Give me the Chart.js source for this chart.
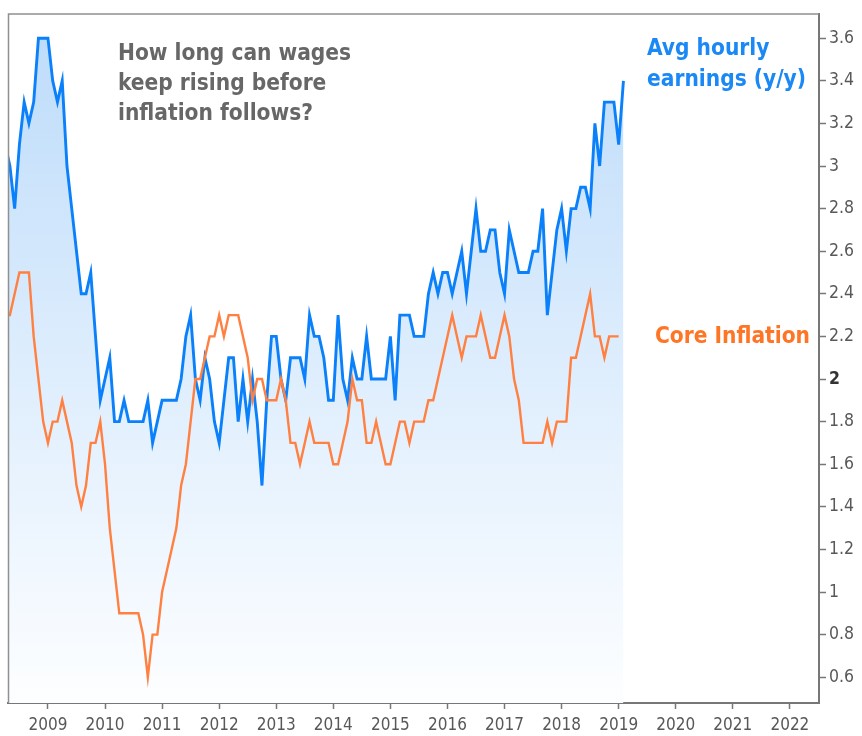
<!DOCTYPE html>
<html>
<head>
<meta charset="utf-8">
<title>Wages vs core inflation</title>
<script src="https://cdn.jsdelivr.net/npm/chart.js@4.4.1/dist/chart.umd.min.js"></script>
<style>
  html,body{margin:0;padding:0;background:#fff;}
  #wrap{width:862px;height:736px;}
</style>
</head>
<body>
<div id="wrap"><canvas id="c" width="862" height="736"></canvas></div>
<script>
// monthly series, first point = Apr 2008
const firstMonth = [2008, 4];

// average hourly earnings, y/y %  (Apr 2008 .. Feb 2019)
const aheYoY = [
  3.1, 3.0, 2.8, 3.1, 3.3, 3.2, 3.3, 3.6, 3.6,
  3.6, 3.4, 3.3, 3.4, 3.0, 2.8, 2.6, 2.4, 2.4, 2.5, 2.2, 1.9,
  2.0, 2.1, 1.8, 1.8, 1.9, 1.8, 1.8, 1.8, 1.8, 1.9, 1.7, 1.8,
  1.9, 1.9, 1.9, 1.9, 2.0, 2.2, 2.3, 2.0, 1.9, 2.1, 2.0, 1.8,
  1.7, 1.9, 2.1, 2.1, 1.8, 2.0, 1.8, 2.0, 1.8, 1.5, 1.9, 2.2,
  2.2, 2.0, 1.9, 2.1, 2.1, 2.1, 2.0, 2.3, 2.2, 2.2, 2.1, 1.9,
  1.9, 2.3, 2.0, 1.9, 2.1, 2.0, 2.0, 2.2, 2.0, 2.0, 2.0, 2.0,
  2.2, 1.9, 2.3, 2.3, 2.3, 2.2, 2.2, 2.2, 2.4, 2.5, 2.4, 2.5,
  2.5, 2.4, 2.5, 2.6, 2.4, 2.6, 2.8, 2.6, 2.6, 2.7, 2.7, 2.5,
  2.4, 2.7, 2.6, 2.5, 2.5, 2.5, 2.6, 2.6, 2.8, 2.3, 2.5, 2.7,
  2.8, 2.6, 2.8, 2.8, 2.9, 2.9, 2.8, 3.2, 3.0, 3.3, 3.3, 3.3,
  3.1, 3.4
];

// core CPI, y/y %  (Apr 2008 .. Jan 2019)
const coreCpiYoY = [
  2.3, 2.3, 2.4, 2.5, 2.5, 2.5, 2.2, 2.0, 1.8,
  1.7, 1.8, 1.8, 1.9, 1.8, 1.7, 1.5, 1.4, 1.5, 1.7, 1.7, 1.8,
  1.6, 1.3, 1.1, 0.9, 0.9, 0.9, 0.9, 0.9, 0.8, 0.6, 0.8, 0.8,
  1.0, 1.1, 1.2, 1.3, 1.5, 1.6, 1.8, 2.0, 2.0, 2.1, 2.2, 2.2,
  2.3, 2.2, 2.3, 2.3, 2.3, 2.2, 2.1, 1.9, 2.0, 2.0, 1.9, 1.9,
  1.9, 2.0, 1.9, 1.7, 1.7, 1.6, 1.7, 1.8, 1.7, 1.7, 1.7, 1.7,
  1.6, 1.6, 1.7, 1.8, 2.0, 1.9, 1.9, 1.7, 1.7, 1.8, 1.7, 1.6,
  1.6, 1.7, 1.8, 1.8, 1.7, 1.8, 1.8, 1.8, 1.9, 1.9, 2.0, 2.1,
  2.2, 2.3, 2.2, 2.1, 2.2, 2.2, 2.2, 2.3, 2.2, 2.1, 2.1, 2.2,
  2.3, 2.2, 2.0, 1.9, 1.7, 1.7, 1.7, 1.7, 1.7, 1.8, 1.7, 1.8,
  1.8, 1.8, 2.1, 2.1, 2.2, 2.3, 2.4, 2.2, 2.2, 2.1, 2.2, 2.2,
  2.2
];

const yearTicks = [2009, 2010, 2011, 2012, 2013, 2014, 2015, 2016, 2017, 2018, 2019, 2020, 2021, 2022];
const valueTicks = [0.6, 0.8, 1, 1.2, 1.4, 1.6, 1.8, 2, 2.2, 2.4, 2.6, 2.8, 3, 3.2, 3.4, 3.6];

const question = ["How long can wages", "keep rising before", "inflation follows?"];
const aheLabel = ["Avg hourly", "earnings (y/y)"];
const coreLabel = "Core Inflation";

const FONT = '"DejaVu Sans Condensed", "DejaVu Sans", sans-serif';
const BLUE = "#0a80fa", ORANGE = "#ff8040";

const monthX = i => firstMonth[0] + (firstMonth[1] - 1 + i) / 12;
const toPoints = arr => arr.map((v, i) => ({x: monthX(i), y: v}));

function wageFill(c){
  const {ctx, chartArea} = c.chart;
  if(!chartArea) return "rgba(190,220,250,0.6)";
  const g = ctx.createLinearGradient(0, chartArea.top, 0, chartArea.bottom);
  g.addColorStop(0, "#bcdbfa");
  g.addColorStop(0.5, "#ddedfd");
  g.addColorStop(1, "#fdfeff");
  return g;
}

const extras = {
  id: "extras",
  afterDatasetsDraw(chart){
    const {ctx, chartArea: a} = chart;
    ctx.save();
    // frame on the left / top (axes give right / bottom)
    ctx.strokeStyle = "#909090"; ctx.lineWidth = 1.5;
    ctx.beginPath();
    ctx.moveTo(a.left + 0.5, a.bottom); ctx.lineTo(a.left + 0.5, a.top + 0.5); ctx.lineTo(a.right, a.top + 0.5);
    ctx.stroke();

    ctx.textBaseline = "alphabetic";
    ctx.font = "bold 22.5px " + FONT;
    ctx.fillStyle = "#676767"; ctx.textAlign = "left";
    question.forEach((t, i) => ctx.fillText(t, a.left + 110, a.top + 46 + i * 30));

    ctx.fillStyle = "#1a88f5";
    aheLabel.forEach((t, i) => ctx.fillText(t, a.left + 639, a.top + 41 + i * 31));

    ctx.fillStyle = "#ff7526"; ctx.textAlign = "right";
    ctx.fillText(coreLabel, a.right - 9, chart.scales.y.getPixelForValue(2.2) + 7);
    ctx.restore();
  }
};

new Chart(document.getElementById("c"), {
  type: "line",
  data: {
    datasets: [
      {label: "Core Inflation", data: toPoints(coreCpiYoY), borderColor: ORANGE, borderWidth: 2.4,
       pointRadius: 0, tension: 0, fill: false, clip: 0},
      {label: "Avg hourly earnings (y/y)", data: toPoints(aheYoY), borderColor: BLUE, borderWidth: 2.9,
       pointRadius: 0, tension: 0, fill: "start", backgroundColor: wageFill, clip: 0}
    ]
  },
  options: {
    responsive: false, animation: false, devicePixelRatio: 1,
    layout: {padding: {left: 8, top: 7, right: 0, bottom: 0}},
    plugins: {legend: {display: false}, tooltip: {enabled: false}},
    scales: {
      x: {
        type: "linear", min: 2008.3, max: 2022.51,
        afterBuildTicks: s => { s.ticks = yearTicks.map(v => ({value: v})); },
        afterFit: s => { s.height = 33; },
        grid: {drawOnChartArea: false, drawTicks: true, tickLength: 6, tickColor: "#777", tickWidth: 1.5},
        border: {display: true, color: "#777", width: 2},
        ticks: {autoSkip: false, maxRotation: 0, padding: 6, color: "#585858",
                font: {family: FONT, size: 17}, callback: v => String(v)}
      },
      y: {
        position: "right", min: 0.479, max: 3.716,
        afterBuildTicks: s => { s.ticks = valueTicks.map(v => ({value: v})); },
        afterFit: s => { s.width = 43; },
        grid: {drawOnChartArea: false, drawTicks: true, tickLength: 7, tickColor: "#777", tickWidth: 1.5},
        border: {display: true, color: "#777", width: 2},
        ticks: {autoSkip: false, padding: 3,
                color: c => c.tick && c.tick.value === 2 ? "#333" : "#585858",
                font: c => ({family: FONT, size: 17.5, weight: c.tick && c.tick.value === 2 ? "bold" : "normal"}),
                callback: v => String(Math.round(v * 10) / 10)}
      }
    }
  },
  plugins: [extras]
});
</script>
</body>
</html>
